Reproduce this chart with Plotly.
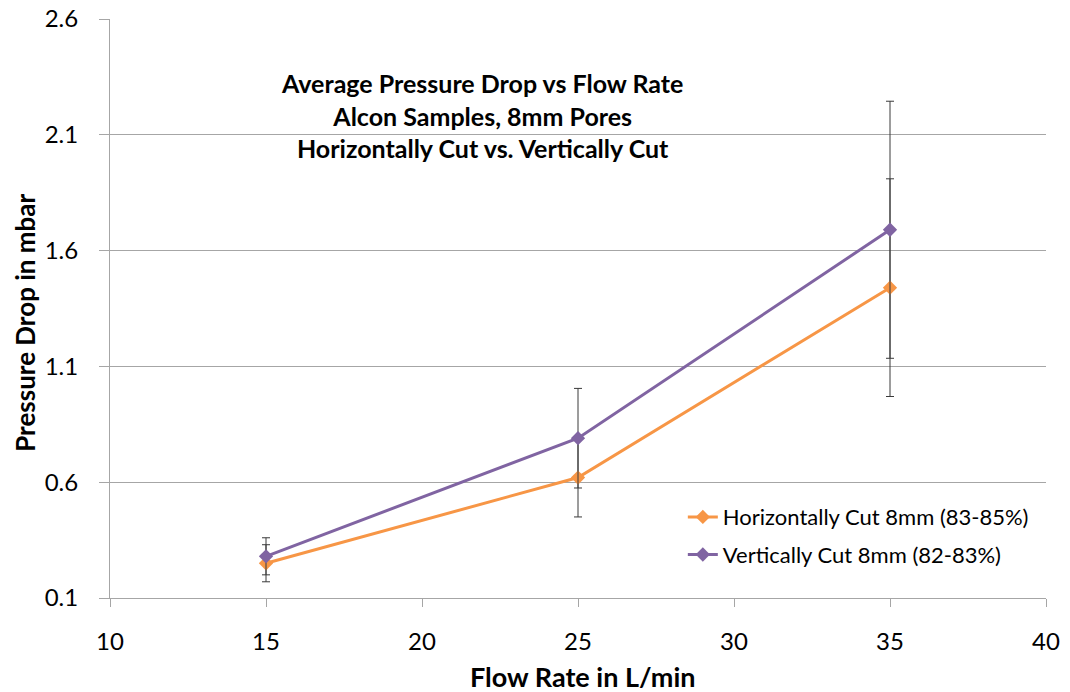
import plotly.graph_objects as go

# Flow rate (L/min) and average pressure drop (mbar) with standard deviations
flow_rate = [15, 25, 35]

horiz_name = "Horizontally Cut 8mm (83-85%)"
horiz_drop = [0.25, 0.62, 1.44]
horiz_err = [0.08, 0.17, 0.47]

vert_name = "Vertically Cut 8mm (82-83%)"
vert_drop = [0.28, 0.79, 1.69]
vert_err = [0.08, 0.215, 0.555]

title_lines = [
    "Average Pressure Drop vs Flow Rate",
    "Alcon Samples, 8mm Pores",
    "Horizontally Cut vs. Vertically Cut",
]
x_title = "Flow Rate in L/min"
y_title = "Pressure Drop in mbar"

x_ticks = [10, 15, 20, 25, 30, 35, 40]
y_ticks = [0.1, 0.6, 1.1, 1.6, 2.1, 2.6]

ORANGE = "#F79646"
PURPLE = "#8064A2"
ERR_COLOR = "#3a3a3a"
AXIS_GRAY = "#a6a6a6"
FONT = "Lato, Open Sans, sans-serif"

fig = go.Figure()

for name, ys, errs, color, group in [
    (horiz_name, horiz_drop, horiz_err, ORANGE, "horizontal"),
    (vert_name, vert_drop, vert_err, PURPLE, "vertical"),
]:
    fig.add_trace(
        go.Scatter(
            x=flow_rate,
            y=ys,
            name=name,
            legendgroup=group,
            mode="lines+markers",
            line=dict(color=color, width=3),
            marker=dict(symbol="diamond", size=11, color=color),
            error_y=dict(
                type="data",
                array=errs,
                visible=True,
                color=ERR_COLOR,
                thickness=1,
                width=4,
            ),
        )
    )

# Chart title inside the plot area
fig.add_annotation(
    text="<br>".join(f"<b>{t}</b>" for t in title_lines),
    xref="paper",
    yref="paper",
    x=0.397,
    y=0.918,
    xanchor="center",
    yanchor="top",
    showarrow=False,
    align="center",
    font=dict(family=FONT, size=25, color="black"),
)

# Axis titles
fig.add_annotation(
    text=f"<b>{x_title}</b>",
    xref="paper",
    yref="paper",
    x=0.505,
    y=-0.135,
    xanchor="center",
    yanchor="middle",
    showarrow=False,
    font=dict(family=FONT, size=27, color="black"),
)
fig.add_annotation(
    text=f"<b>{y_title}</b>",
    xref="paper",
    yref="paper",
    x=-0.091,
    y=0.475,
    xanchor="center",
    yanchor="middle",
    textangle=-90,
    showarrow=False,
    font=dict(family=FONT, size=26, color="black"),
)

fig.update_layout(
    width=1070,
    height=692,
    margin=dict(l=110, r=24, t=19, b=94, autoexpand=False),
    paper_bgcolor="white",
    plot_bgcolor="white",
    showlegend=True,
    legend=dict(
        x=0.612,
        y=0.176,
        xanchor="left",
        yanchor="top",
        bgcolor="rgba(0,0,0,0)",
        font=dict(family=FONT, size=22, color="black"),
        itemwidth=30,
        tracegroupgap=6,
    ),
    xaxis=dict(
        range=[10, 40],
        tickvals=x_ticks,
        ticktext=[str(v) for v in x_ticks],
        showgrid=False,
        zeroline=False,
        showline=True,
        linecolor=AXIS_GRAY,
        linewidth=1,
        ticks="outside",
        ticklen=8,
        tickcolor=AXIS_GRAY,
        ticklabelstandoff=14,
        automargin=False,
        tickfont=dict(family=FONT, size=24, color="black"),
    ),
    yaxis=dict(
        range=[0.1, 2.6],
        tickvals=y_ticks,
        ticktext=[f"{v:.1f}" for v in y_ticks],
        showgrid=True,
        gridcolor=AXIS_GRAY,
        gridwidth=1,
        zeroline=False,
        showline=True,
        linecolor=AXIS_GRAY,
        linewidth=1,
        ticks="outside",
        ticklen=10,
        tickcolor=AXIS_GRAY,
        ticklabelstandoff=16,
        automargin=False,
        tickfont=dict(family=FONT, size=24, color="black"),
    ),
)

fig.write_html("out.html")
